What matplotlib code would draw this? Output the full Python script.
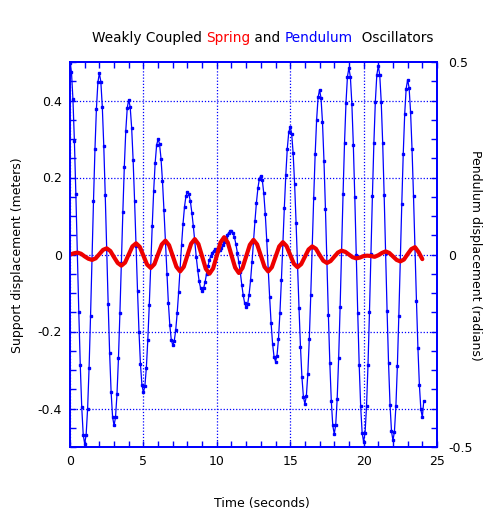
import numpy as np
import matplotlib
matplotlib.use("Agg")
import matplotlib.pyplot as plt
from matplotlib.ticker import MultipleLocator

plt.rcParams['font.family'] = 'DejaVu Sans'
plt.rcParams['axes.unicode_minus'] = False

# pendulum angle, sampled every 0.1 s
pendulum = [
    0.498, 0.474, 0.403, 0.294, 0.156, 0.003, -0.150, -0.288, -0.397, -0.468,
    -0.492, -0.468, -0.400, -0.294, -0.159, -0.011, 0.138, 0.273, 0.379, 0.447,
    0.471, 0.449, 0.384, 0.283, 0.155, 0.014, -0.128, -0.256, -0.357, -0.422,
    -0.444, -0.423, -0.363, -0.270, -0.152, -0.021, 0.110, 0.228, 0.321, 0.381,
    0.402, 0.383, 0.329, 0.245, 0.139, 0.022, -0.095, -0.201, -0.285, -0.339,
    -0.358, -0.342, -0.295, -0.222, -0.131, -0.029, 0.073, 0.165, 0.237, 0.284,
    0.300, 0.287, 0.249, 0.190, 0.115, 0.033, -0.050, -0.125, -0.184, -0.222,
    -0.235, -0.225, -0.197, -0.153, -0.098, -0.037, 0.025, 0.080, 0.124, 0.152,
    0.162, 0.156, 0.138, 0.109, 0.074, 0.034, -0.006, -0.041, -0.070, -0.088,
    -0.094, -0.088, -0.072, -0.050, -0.030, -0.014, -0.003, 0.005, 0.010, 0.013,
    0.013, 0.010, 0.011, 0.016, 0.024, 0.033, 0.042, 0.050, 0.056, 0.060,
    0.061, 0.057, 0.045, 0.027, 0.005, -0.020, -0.046, -0.078, -0.106, -0.127,
    -0.137, -0.129, -0.104, -0.067, -0.019, 0.034, 0.087, 0.135, 0.172, 0.197,
    0.205, 0.193, 0.159, 0.106, 0.038, -0.037, -0.111, -0.179, -0.232, -0.266,
    -0.278, -0.263, -0.220, -0.152, -0.067, 0.027, 0.121, 0.206, 0.274, 0.317,
    0.332, 0.314, 0.263, 0.184, 0.083, -0.028, -0.139, -0.240, -0.319, -0.370,
    -0.388, -0.368, -0.310, -0.220, -0.106, 0.020, 0.146, 0.260, 0.350, 0.408,
    0.428, 0.406, 0.343, 0.244, 0.119, -0.019, -0.157, -0.282, -0.381, -0.444,
    -0.466, -0.443, -0.375, -0.270, -0.137, 0.010, 0.156, 0.289, 0.394, 0.462,
    0.485, 0.461, 0.392, 0.285, 0.149, -0.001, -0.151, -0.287, -0.394, -0.463,
    -0.487, -0.463, -0.394, -0.286, -0.149, 0.002, 0.152, 0.289, 0.397, 0.466,
    0.490, 0.466, 0.397, 0.290, 0.154, 0.004, -0.147, -0.283, -0.390, -0.459,
    -0.483, -0.460, -0.394, -0.290, -0.159, -0.015, 0.130, 0.261, 0.365, 0.431,
    0.454, 0.433, 0.370, 0.273, 0.151, 0.016, -0.120, -0.242, -0.339, -0.402,
    -0.423, -0.380,
]
pend_dt = 0.1

# spring support displacement, sampled every 0.25 s
spring = [
    0.000, 0.003, 0.005, 0.002, -0.005, -0.011, -0.014, -0.010,
    0.001, 0.012, 0.016, 0.009, -0.007, -0.022, -0.029, -0.021,
    0.000, 0.021, 0.029, 0.020, -0.003, -0.026, -0.035, -0.025,
    0.001, 0.026, 0.036, 0.024, -0.004, -0.032, -0.044, -0.032,
    -0.002, 0.028, 0.040, 0.027, -0.005, -0.037, -0.050, -0.036,
    -0.003, 0.031, 0.045, 0.031, -0.002, -0.034, -0.048, -0.035,
    -0.005, 0.025, 0.038, 0.026, -0.003, -0.032, -0.044, -0.033,
    -0.006, 0.021, 0.032, 0.022, -0.001, -0.024, -0.033, -0.025,
    -0.006, 0.013, 0.021, 0.015, -0.001, -0.016, -0.022, -0.017,
    -0.006, 0.005, 0.010, 0.007, 0.000, -0.007, -0.010, -0.008,
    -0.004, -0.003, -0.004, -0.006, -0.002, 0.004, 0.008, 0.004,
    -0.005, -0.014, -0.018, -0.013, 0.001, 0.014, 0.019, 0.006,
    -0.012,
]
spring_dt = 0.25

t_pend = np.arange(len(pendulum)) * pend_dt
t_spring = np.arange(len(spring)) * spring_dt

left_ticks = [-0.4, -0.2, 0, 0.2, 0.4]
right_ticks = [-0.5, 0, 0.5]
x_ticks = [0, 5, 10, 15, 20, 25]

BLUE = '#0000ff'
RED = '#ee0000'
W, H = 485, 512

fig = plt.figure(figsize=(W / 100, H / 100), dpi=100)
ax = fig.add_axes([70 / W, 1 - 447 / H, 367 / W, 385 / H])

ax.plot(t_pend, pendulum, color=BLUE, lw=0.9, marker='s', ms=1.7,
        mec=BLUE, mfc=BLUE, zorder=3)
ax.plot(t_spring, spring, color=RED, lw=3.0, solid_joinstyle='round',
        solid_capstyle='round', zorder=4)

ax.set_xlim(0, 25)
ax.set_ylim(-0.5, 0.5)
ax.set_xticks(x_ticks)
ax.set_xticklabels([f"{v:g}" for v in x_ticks])
ax.set_yticks(left_ticks)
ax.set_yticklabels([f"{v:g}" for v in left_ticks])
ax.xaxis.set_minor_locator(MultipleLocator(1))
ax.yaxis.set_minor_locator(MultipleLocator(0.05))
ax.grid(True, which='major', color=BLUE, linestyle=(0, (1, 1.5)), lw=0.9)
ax.tick_params(which='both', direction='in', top=True, color=BLUE,
               labelsize=9, length=4, width=1)
ax.tick_params(axis='x', pad=6)
ax.tick_params(axis='y', pad=6)

ax2 = ax.twinx()
ax2.set_ylim(-0.5, 0.5)
ax2.set_yticks(right_ticks)
ax2.set_yticklabels([f"{v:g}" for v in right_ticks])
ax2.yaxis.set_minor_locator(MultipleLocator(0.05))
ax2.tick_params(which='both', direction='in', color=BLUE, labelsize=9,
                length=4, width=1, pad=8)

for a in (ax, ax2):
    for s in a.spines.values():
        s.set_color(BLUE)
        s.set_linewidth(1.3)

# axis titles placed in figure pixels
fig.text(262 / W, 1 - 504 / H, "Time (seconds)", fontsize=9,
         ha='center', va='center')
fig.text(18 / W, 1 - 255 / H, "Support displacement (meters)", fontsize=9,
         rotation=90, ha='center', va='center')
fig.text(476 / W, 1 - 255 / H, "Pendulum displacement (radians)", fontsize=9,
         rotation=270, ha='center', va='center')

# title in coloured pieces
pieces = [("Weakly Coupled ", 'black'), ("Spring", 'red'), (" and ", 'black'),
          ("Pendulum", BLUE), ("  Oscillators", 'black')]
txt = fig.text(92 / W, 1 - 42 / H, pieces[0][0], color=pieces[0][1],
               fontsize=9.8, ha='left', va='baseline')
for word, col in pieces[1:]:
    txt = ax.annotate(word, xy=(1, 0), xycoords=txt, color=col,
                      fontsize=9.8, ha='left', va='bottom')

fig.savefig("out.png", dpi=100)
